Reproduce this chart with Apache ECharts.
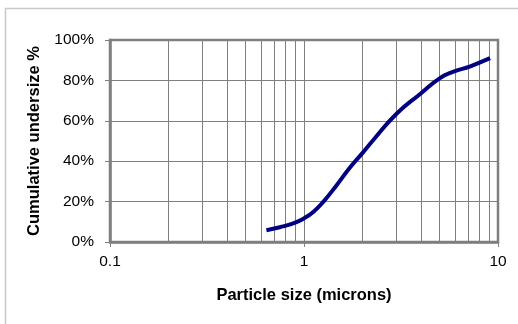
<!DOCTYPE html>
<html>
<head>
<meta charset="utf-8">
<script src="https://cdn.jsdelivr.net/npm/echarts@6/dist/echarts.min.js"></script>
<style>
  html, body { margin: 0; padding: 0; background: #fff; }
  #chart { width: 518px; height: 324px; }
</style>
</head>
<body>
<div id="chart"></div>
<script>
// Particle size distribution (cumulative undersize vs size, log scale)
const particleSize = [0.64, 0.75, 0.88, 1.0, 1.12, 1.26, 1.47, 1.73, 2.0, 2.3, 3.0, 4.0, 5.0, 5.9, 7.2, 9.1];
const cumulativeUndersize = [5.8, 7.3, 9.2, 11.7, 15, 20, 28, 37, 44, 51, 63.5, 73.5, 81, 84.3, 87, 91];
const minorSizes = [0.2, 0.3, 0.4, 0.5, 0.6, 0.7, 0.8, 0.9, 2, 3, 4, 5, 6, 7, 8, 9];
const xTitle = 'Particle size (microns)';
const yTitle = 'Cumulative undersize %';

const gridColor = '#7f7f7f';
const font = 'Arial, "Liberation Sans", sans-serif';

const chart = echarts.init(document.getElementById('chart'), null, { renderer: 'canvas' });

chart.setOption({
  animation: false,
  backgroundColor: '#ffffff',
  graphic: [{
    type: 'rect',
    shape: { x: 5.5, y: 8.5, width: 600, height: 400 },
    style: { fill: 'none', stroke: '#c8c8c8', lineWidth: 1.5 },
    silent: true
  }],
  grid: {
    left: 110, top: 40, right: 20, bottom: 82,
    show: true, borderColor: gridColor, borderWidth: 2.5, backgroundColor: 'transparent'
  },
  xAxis: {
    type: 'log', logBase: 10, min: 0.1, max: 10,
    name: xTitle, nameLocation: 'middle', nameGap: 45,
    nameTextStyle: { fontFamily: font, fontSize: 16.5, fontWeight: 'bold', color: '#000' },
    axisLine: { show: true, lineStyle: { color: gridColor, width: 2.5 } },
    axisTick: { show: true, length: 5, lineStyle: { color: gridColor } },
    axisLabel: { fontFamily: font, fontSize: 15.5, color: '#000', margin: 12,
      formatter: v => String(+v.toPrecision(3)) },
    splitLine: { show: true, lineStyle: { color: gridColor, width: 1 } }
  },
  yAxis: {
    type: 'value', min: 0, max: 100, interval: 20,
    name: yTitle, nameLocation: 'middle', nameGap: 67, nameRotate: 90,
    nameTextStyle: { fontFamily: font, fontSize: 16.5, fontWeight: 'bold', color: '#000' },
    axisLine: { show: true, lineStyle: { color: gridColor, width: 2.5 } },
    axisTick: { show: true, length: 5, lineStyle: { color: gridColor } },
    axisLabel: { fontFamily: font, fontSize: 15.5, color: '#000', margin: 16, formatter: '{value}%' },
    splitLine: { show: true, lineStyle: { color: gridColor, width: 1 } }
  },
  series: [{
    type: 'line',
    data: particleSize.map((s, i) => [s, cumulativeUndersize[i]]),
    smooth: true,
    showSymbol: false,
    lineStyle: { color: '#000080', width: 4 },
    markLine: {
      silent: true,
      symbol: ['none', 'none'],
      label: { show: false },
      lineStyle: { color: gridColor, width: 1, type: 'solid' },
      data: minorSizes.map(v => ({ xAxis: v }))
    },
    z: 5
  }]
});
</script>
</body>
</html>
